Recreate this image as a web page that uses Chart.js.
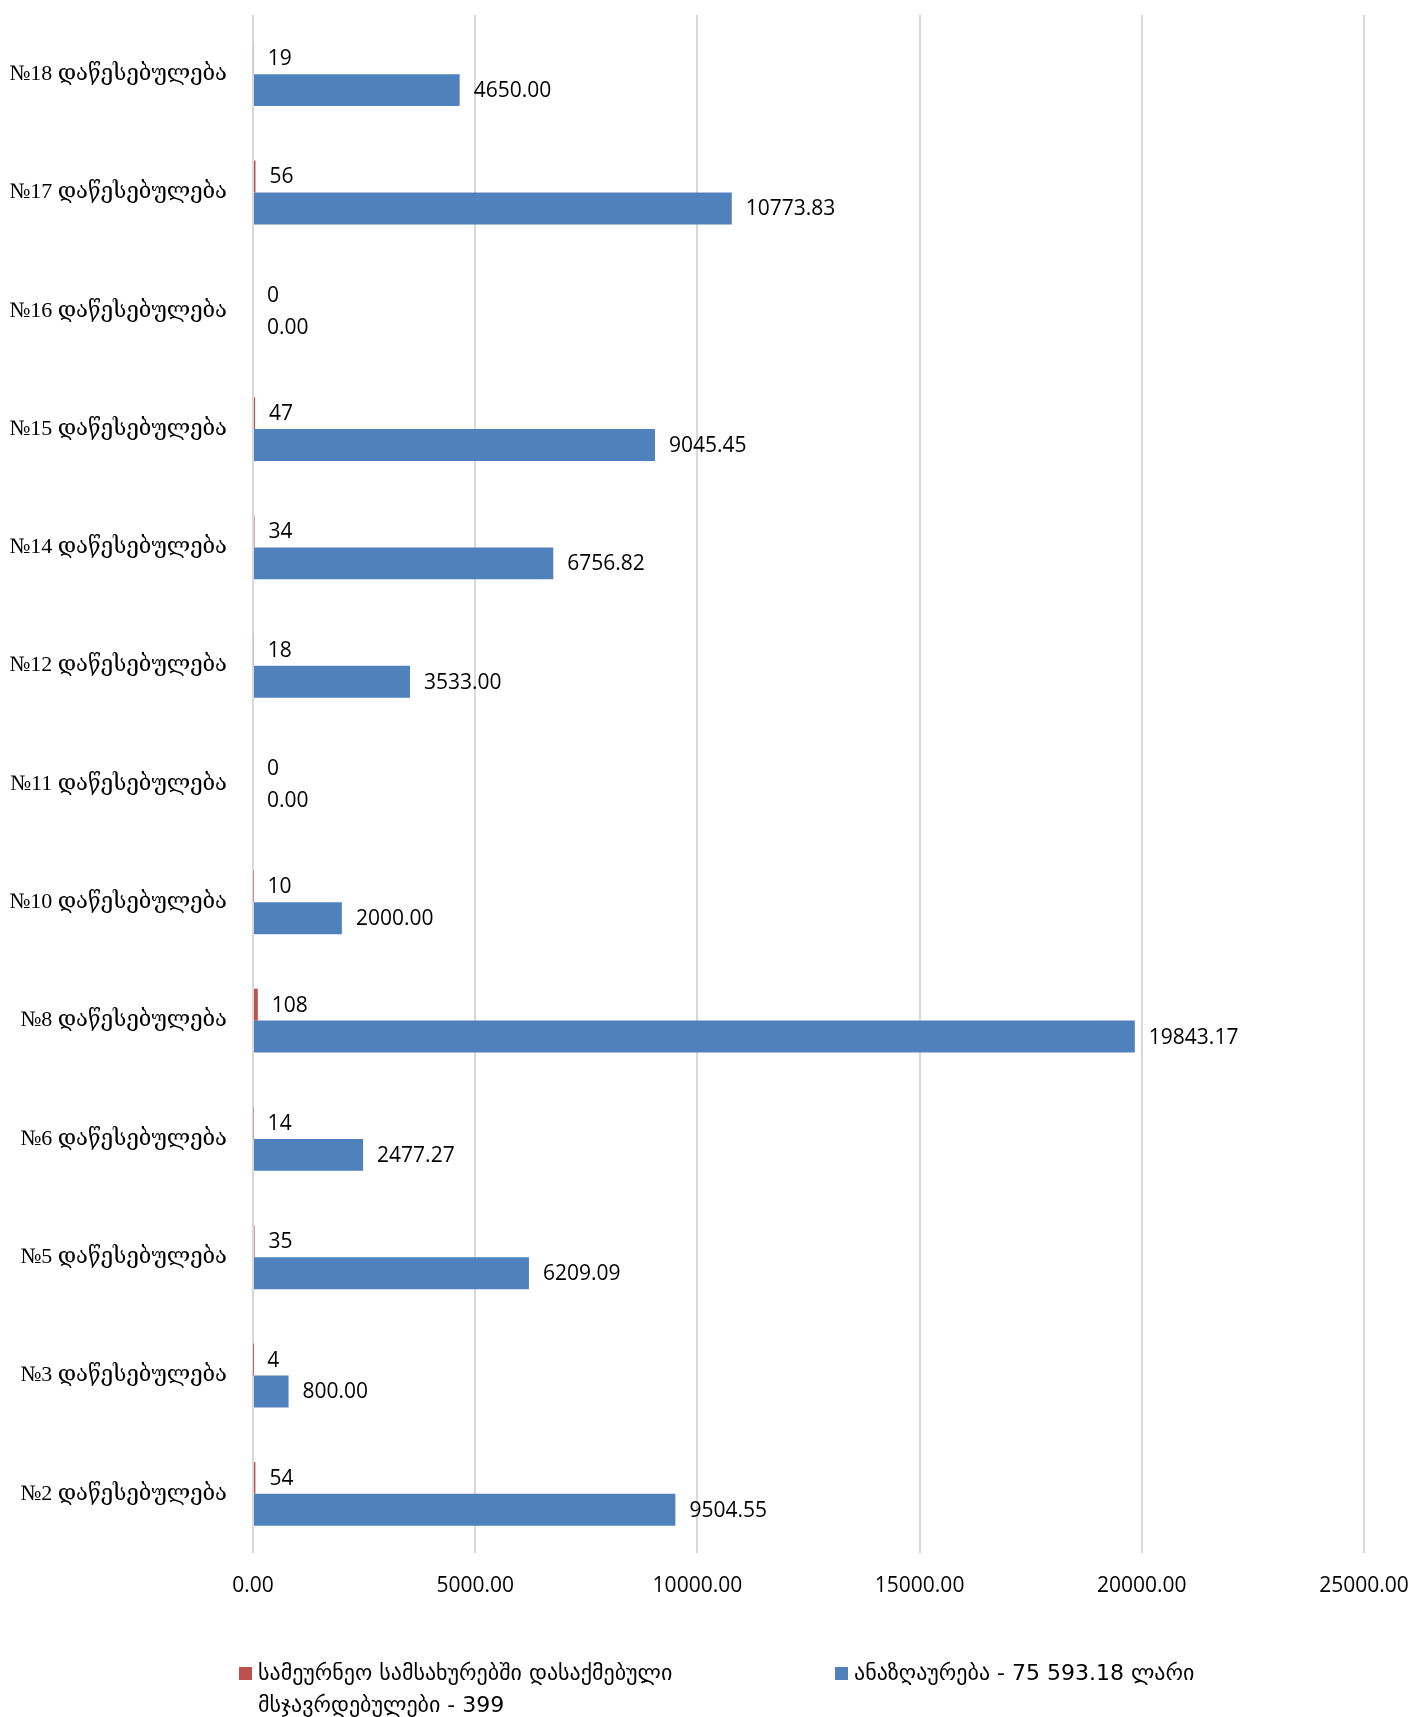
<!DOCTYPE html>
<html lang="ka">
<head>
<meta charset="utf-8">
<title>დაწესებულებები</title>
<script src="https://cdn.jsdelivr.net/npm/chart.js@4"></script>
<style>
  html, body { margin: 0; padding: 0; background: #fff; }
</style>
</head>
<body>
<canvas id="chart" width="1413" height="1717"></canvas>
<script>
// categories, top to bottom
const categories = [
    "№18 დაწესებულება", "№17 დაწესებულება", "№16 დაწესებულება", "№15 დაწესებულება",
    "№14 დაწესებულება", "№12 დაწესებულება", "№11 დაწესებულება", "№10 დაწესებულება",
    "№8 დაწესებულება", "№6 დაწესებულება", "№5 დაწესებულება", "№3 დაწესებულება",
    "№2 დაწესებულება"
];
// employed prisoners per institution
const employees = [19, 56, 0, 47, 34, 18, 0, 10, 108, 14, 35, 4, 54];
// payment, GEL
const payments = [4650.00, 10773.83, 0, 9045.45, 6756.82, 3533.00, 0, 2000.00, 19843.17, 2477.27, 6209.09, 800.00, 9504.55];
const xTicks = [0, 5000, 10000, 15000, 20000, 25000];
const employeesLabel = ["სამეურნეო სამსახურებში დასაქმებული", "მსჯავრდებულები - 399"];
const paymentsLabel = ["ანაზღაურება - 75 593.18 ლარი"];

const RED = "#c0504d";
const BLUE = "#4f81bd";
const NUM_FONT = "21px 'Open Sans'";

// value labels at the end of each bar
const valueLabels = {
    id: "valueLabels",
    afterDatasetsDraw(chart) {
        const ctx = chart.ctx;
        ctx.save();
        ctx.font = NUM_FONT;
        ctx.fillStyle = "#000";
        ctx.textAlign = "left";
        ctx.textBaseline = "middle";
        chart.data.datasets.forEach((ds, i) => {
            chart.getDatasetMeta(i).data.forEach((bar, j) => {
                const v = ds.data[j];
                const txt = i === 0 ? String(v) : v.toFixed(2);
                ctx.fillText(txt, bar.x + 14, bar.y + 1);
            });
        });
        ctx.restore();
    }
};

// legend at the bottom, first item wraps on two lines
const bottomLegend = {
    id: "bottomLegend",
    afterDraw(chart) {
        const ctx = chart.ctx;
        const items = [
            { color: RED, lines: employeesLabel, x: 239 },
            { color: BLUE, lines: paymentsLabel, x: 835 }
        ];
        const y0 = 1674;
        const lineH = 32;
        ctx.save();
        ctx.font = "22px 'DejaVu Sans'";
        ctx.textBaseline = "middle";
        ctx.textAlign = "left";
        items.forEach(it => {
            ctx.fillStyle = it.color;
            ctx.fillRect(it.x, y0 - 7, 13, 13);
            ctx.fillStyle = "#000";
            it.lines.forEach((line, k) => {
                ctx.fillText(line, it.x + 19, y0 + k * lineH);
            });
        });
        ctx.restore();
    }
};

new Chart(document.getElementById("chart"), {
    type: "bar",
    data: {
        labels: categories,
        datasets: [
            {
                label: employeesLabel.join(" "),
                data: employees,
                backgroundColor: RED,
                categoryPercentage: 0.54,
                barPercentage: 1.0
            },
            {
                label: paymentsLabel[0],
                data: payments,
                backgroundColor: BLUE,
                categoryPercentage: 0.54,
                barPercentage: 1.0
            }
        ]
    },
    options: {
        indexAxis: "y",
        responsive: false,
        animation: false,
        layout: { padding: { top: 15, right: 49, left: 0, bottom: 94 } },
        plugins: {
            legend: { display: false },
            tooltip: { enabled: false }
        },
        scales: {
            x: {
                min: 0,
                max: 25000,
                afterBuildTicks(scale) {
                    scale.ticks = xTicks.map(v => ({ value: v }));
                },
                afterFit(scale) { scale.height = 70; },
                grid: { color: "#d9d9d9", lineWidth: 2, drawTicks: true, tickLength: 20, tickColor: "rgba(0,0,0,0)" },
                border: { display: false },
                ticks: {
                    padding: 0,
                    color: "#000",
                    font: { family: "'Open Sans'", size: 21 },
                    callback: v => Number(v).toFixed(2)
                }
            },
            y: {
                afterFit(scale) { scale.width = 253; },
                grid: { display: true, color: "rgba(0,0,0,0)", drawTicks: true, tickLength: 26, tickColor: "rgba(0,0,0,0)" },
                border: { display: false },
                ticks: {
                    padding: 0,
                    color: "#000",
                    font: { family: "'Liberation Serif', 'DejaVu Serif', serif", size: 22 }
                }
            }
        }
    },
    plugins: [valueLabels, bottomLegend]
});
</script>
</body>
</html>
